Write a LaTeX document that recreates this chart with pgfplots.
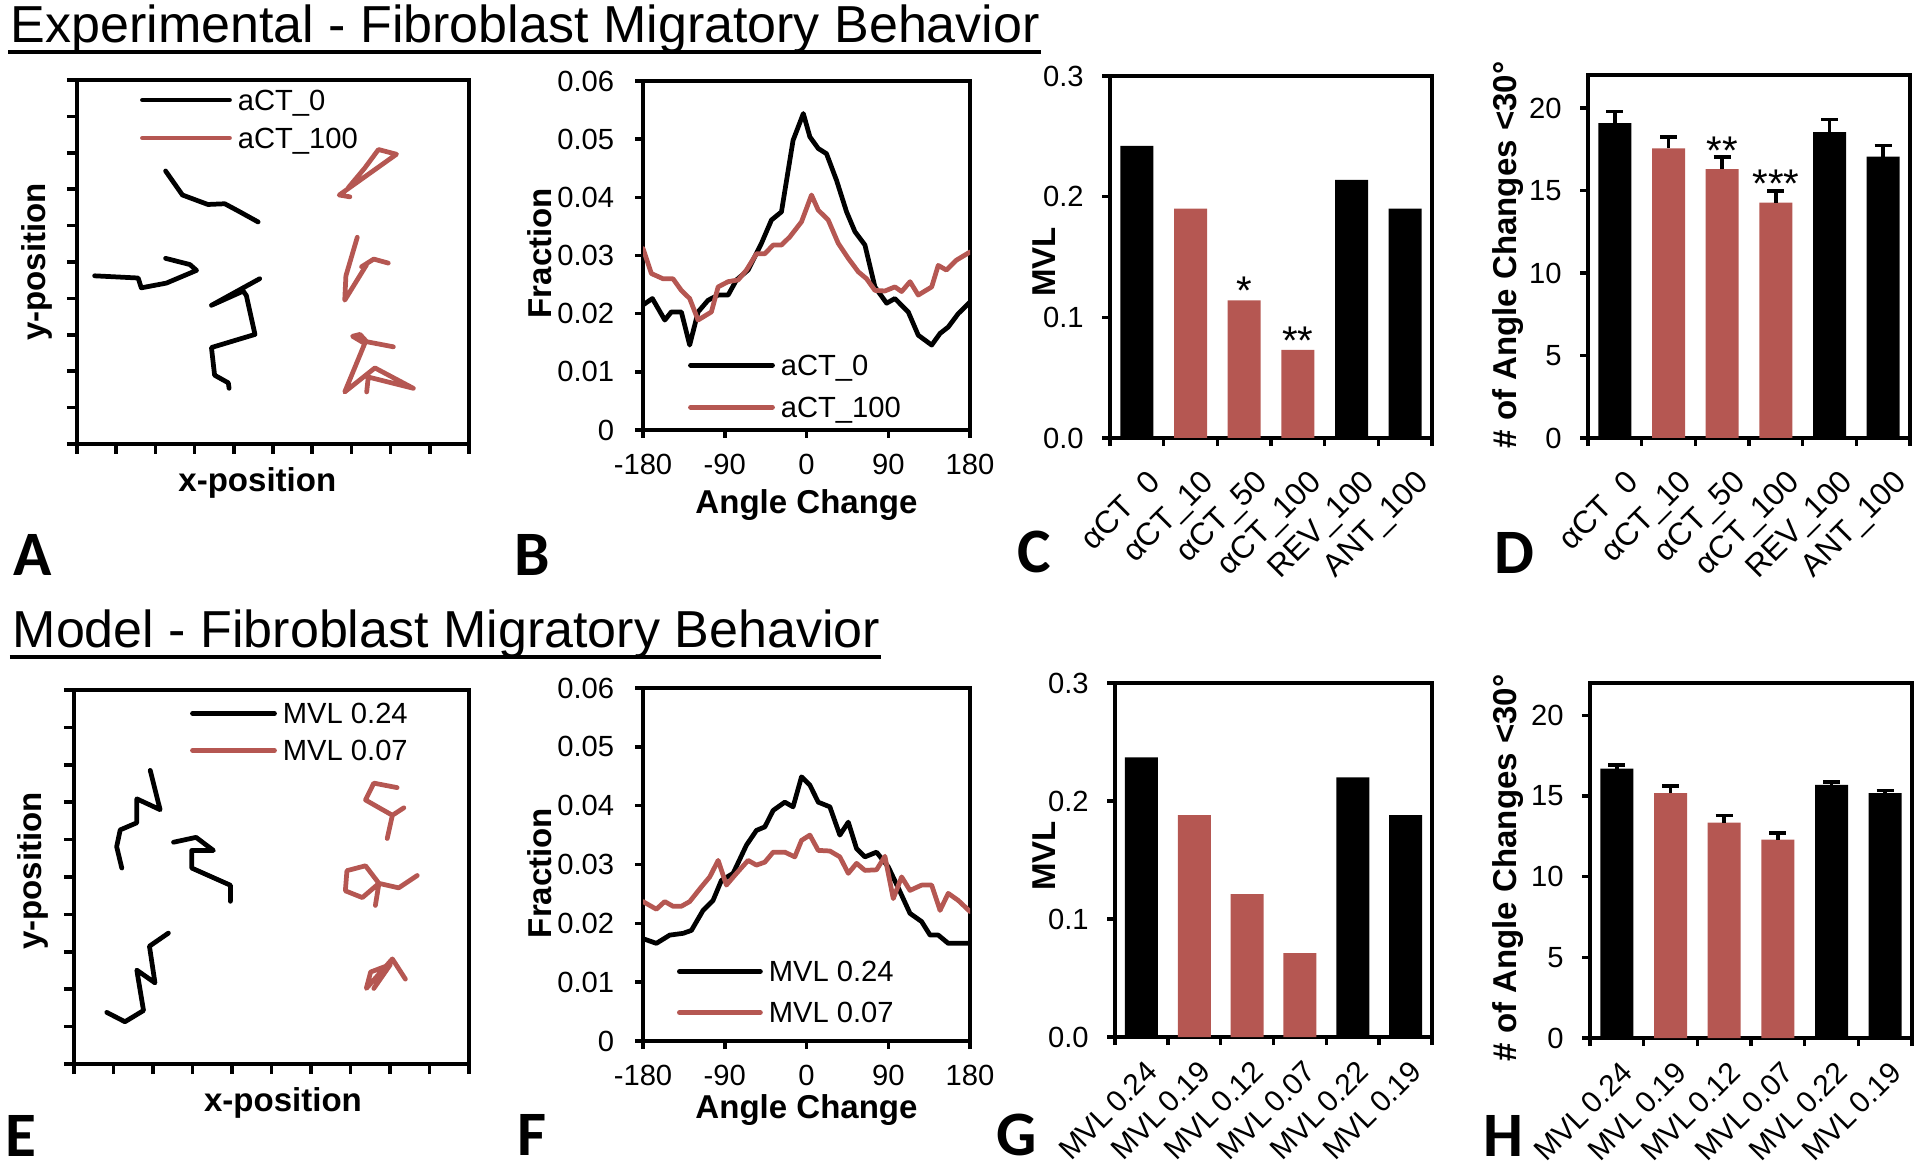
\documentclass[border=0pt]{standalone}
\usepackage{fontspec}
\setmainfont{Liberation Sans}
\newfontfamily\letterfont{Carlito}
\usepackage{pgfplots}
\pgfplotsset{compat=1.18}
\definecolor{myred}{RGB}{181,87,82}

\pgfplotsset{
  panel/.style={
    scale only axis, anchor=south west,
    axis line style={line width=1pt},
    tick style={line width=1pt, black},
    tick align=outside, xtick pos=bottom, ytick pos=left,
    major tick length=0.08cm, minor tick length=0.08cm,
    /pgf/number format/assume math mode=true,
    scaled ticks=false,
    tick label style={font=\fontsize{8.3}{9.8}\selectfont},
    label style={font=\bfseries\fontsize{9.4}{11}\selectfont},
    legend cell align=left,
  },
  leg/.style n args={4}{% x, y, row sep, line length
    legend style={draw=none, fill=none, inner sep=0pt, outer sep=0pt,
      at={(axis description cs:#1,#2)}, anchor=north west,
      row sep=#3, column sep=0.06cm,
      font=\fontsize{8.3}{9.8}\selectfont,
      nodes={inner sep=0pt, text height=0.21cm, text depth=0.01cm}},
    legend image code/.code={\draw[##1] (0cm,0cm) -- (#4,0cm);},
  },
  traj/.style={
    xmin=0, xmax=10, ymin=0, ymax=10,
    xtick={0,...,10}, ytick={0,...,10},
    xticklabels={}, yticklabels={},
    major tick length=0.1cm,
    xlabel={x-position}, ylabel={y-position},
  },
  angle/.style={
    xmin=-180, xmax=180, ymin=0, ymax=0.06,
    xtick={-180,-90,0,90,180}, xticklabels={-180,-90,0,90,180},
    ytick={0,0.01,0.02,0.03,0.04,0.05,0.06},
    yticklabels={0,0.01,0.02,0.03,0.04,0.05,0.06},
    yticklabel style={xshift=-0.085cm},
    xticklabel style={yshift=-0.04cm},
    xlabel={Angle Change}, ylabel={Fraction},
  },
  bars/.style={
    xmin=-0.5, xmax=5.5, ymin=0,
    xtick={0,...,5},
    minor xtick={-0.5,0.5,1.5,2.5,3.5,4.5,5.5},
    every major x tick/.append style={draw=none},
    yticklabel style={xshift=-0.06cm},
  },
  rotlab/.style n args={3}{
    xticklabel style={font=\fontsize{#3}{10}\selectfont, inner sep=0pt,
      xshift=#1, yshift=#2, rotate=45, anchor=north east},
  },
  blackline/.style={black, line width=1.35pt, line join=round, line cap=round},
  redline/.style={myred, line width=1.35pt, line join=round, line cap=round},
  barb/.style={ybar, bar shift=0pt, bar width=0.33cm, draw=none, fill=black},
  barr/.style={ybar, bar shift=0pt, bar width=0.33cm, draw=none, fill=myred},
  errs/.style={error bars/.cd, y dir=plus, y explicit,
    error bar style={line width=1pt, black},
    error mark options={rotate=90, line width=1pt, mark size=0.085cm, black}},
}

\begin{document}
\begin{tikzpicture}
\path[use as bounding box] (0,0) rectangle (19.2,-11.67);

% ---------- titles ----------
\node[anchor=base west, inner sep=0pt, font=\fontsize{14.8}{17}\selectfont] (t1) at (0.10,-0.43) {Experimental - Fibroblast Migratory Behavior};
\draw[line width=1pt] ([yshift=-0.09cm,xshift=-0.02cm]t1.base west) -- ([yshift=-0.09cm]t1.base east);
\node[anchor=base west, inner sep=0pt, font=\fontsize{14.8}{17}\selectfont] (t2) at (0.12,-6.47) {Model - Fibroblast Migratory Behavior};
\draw[line width=1pt] ([yshift=-0.10cm,xshift=-0.02cm]t2.base west) -- ([yshift=-0.10cm]t2.base east);

% ---------- panel letters ----------
\begin{scope}[every node/.style={font=\letterfont\bfseries\fontsize{18}{20}\selectfont, inner sep=0pt, anchor=center}]
\node at (0.33,-5.55) {A};
\node at (5.32,-5.55) {B};
\node at (10.34,-5.52) {C};
\node at (15.14,-5.53) {D};
\node at (0.21,-11.36) {E};
\node at (5.32,-11.35) {F};
\node at (10.17,-11.35) {G};
\node at (15.03,-11.36) {H};
\end{scope}

% ---------- A ----------
\begin{axis}[panel, traj, at={(0.77cm,-4.44cm)}, width=3.92cm, height=3.64cm,
  xlabel style={at={(axis description cs:0.46,-0.107)}, anchor=center},
  ylabel style={at={(axis description cs:-0.102,0.5)}, anchor=center},
  leg={0.161}{0.975}{0.16cm}{0.87cm}]
\addplot[blackline] coordinates {(2.26,7.50) (2.69,6.84) (3.34,6.58) (3.77,6.60) (4.15,6.38) (4.62,6.10)};
\addlegendentry{aCT\_0}
\addplot[redline] coordinates {(6.96,6.79) (6.69,6.84) (8.15,7.96) (7.69,8.09) (7.34,7.58) (6.92,7.04)};
\addlegendentry{aCT\_100}
\addplot[blackline, forget plot] coordinates {(0.45,4.62) (1.56,4.56) (1.64,4.29) (2.28,4.42) (3.05,4.77) (2.88,4.93) (2.26,5.10)};
\addplot[blackline, forget plot] coordinates {(4.66,4.54) (3.43,3.81) (4.24,4.20) (4.32,4.08) (4.54,3.01) (3.43,2.65) (3.51,1.89) (3.86,1.68) (3.88,1.53)};
\addplot[redline, forget plot] coordinates {(7.15,5.68) (6.86,4.62) (6.83,3.95) (7.39,4.93) (7.26,4.87) (7.57,5.08) (7.94,4.97)};
\addplot[redline, forget plot] coordinates {(8.07,2.67) (7.39,2.81) (7.22,3.01) (7.03,2.96) (7.34,2.76) (6.83,1.43) (7.60,2.09) (8.58,1.53) (7.43,1.84) (7.39,1.43)};
\end{axis}

% ---------- B ----------
\begin{axis}[panel, angle, at={(6.43cm,-4.30cm)}, width=3.27cm, height=3.49cm,
  xlabel style={at={(axis description cs:0.5,-0.215)}, anchor=center},
  ylabel style={at={(axis description cs:-0.315,0.507)}, anchor=center},
  leg={0.138}{0.217}{0.20cm}{0.82cm}]
\addplot[blackline] coordinates {
(-180,0.0215) (-169.7,0.0226) (-156,0.0189) (-148.8,0.0203) (-137.8,0.0203)
(-128.6,0.0146) (-119.4,0.0203) (-108.4,0.0223) (-97.3,0.0232) (-86.3,0.0232)
(-77.1,0.0258) (-64.3,0.0275) (-49.6,0.0321) (-38.6,0.0361) (-27.6,0.0375)
(-14.8,0.0498) (-3.5,0.0544) (3.7,0.0504) (12.9,0.0484) (22.0,0.0475)
(33.1,0.0429) (44.1,0.0375) (53.3,0.0341) (64.3,0.0318) (75.3,0.0246)
(88.2,0.0218) (97.3,0.0226) (112,0.0203) (123,0.0163) (137.8,0.0146)
(147,0.0166) (156,0.0177) (167,0.0200) (180,0.0220)};
\addlegendentry{aCT\_0}
\addplot[redline] coordinates {
(-180,0.0312) (-170.8,0.0269) (-158,0.0260) (-147,0.0260) (-137.8,0.0240)
(-128.6,0.0226) (-119.4,0.0189) (-104.7,0.0203) (-97.3,0.0246) (-86.3,0.0255)
(-75.3,0.0258) (-66.1,0.0275) (-55.1,0.0303) (-45.9,0.0303) (-36.7,0.0318)
(-27.6,0.0318) (-18.4,0.0332) (-5.5,0.0358) (5.5,0.0404) (12.9,0.0378)
(23.9,0.0361) (34.9,0.0321) (46,0.0295) (57,0.0272) (66.1,0.0260)
(75.3,0.0240) (86.3,0.0239) (97.3,0.0246) (104.7,0.0238) (114,0.0255)
(123,0.0232) (137.8,0.0246) (145,0.0283) (154,0.0275) (165,0.0292) (180,0.0306)};
\addlegendentry{aCT\_100}
\end{axis}

% ---------- C ----------
\begin{axis}[panel, bars, rotlab={0.09cm}{-0.21cm}{9}, at={(11.10cm,-4.38cm)}, width=3.22cm, height=3.62cm,
  ymax=0.3, ytick={0,0.1,0.2,0.3}, yticklabels={0.0,0.1,0.2,0.3},
  xticklabels={αCT\hphantom{\_}0, αCT\_10, αCT\_50, αCT\_100, REV\_100, ANT\_100},
  ylabel={MVL},
  ylabel style={at={(axis description cs:-0.205,0.486)}, anchor=center}]
\addplot[barb] coordinates {(0,0.242) (4,0.214) (5,0.190)};
\addplot[barr] coordinates {(1,0.190) (2,0.114) (3,0.073)};
\node[anchor=base, inner sep=0pt, font=\fontsize{11.4}{12}\selectfont] at (axis cs:2,0.111) {*};
\node[anchor=base, inner sep=0pt, font=\fontsize{11.4}{12}\selectfont] at (axis cs:3,0.069) {**};
\end{axis}

% ---------- D ----------
\begin{axis}[panel, bars, rotlab={0.09cm}{-0.21cm}{9}, at={(15.88cm,-4.38cm)}, width=3.22cm, height=3.63cm,
  ymax=22, ytick={0,5,10,15,20}, yticklabels={0,5,10,15,20},
  xticklabels={αCT\hphantom{\_}0, αCT\_10, αCT\_50, αCT\_100, REV\_100, ANT\_100},
  ylabel={\# of Angle Changes <30°},
  ylabel style={at={(axis description cs:-0.248,0.504)}, anchor=center}]
\addplot[barb, errs] coordinates {(0,19.09) +- (0,0.71) (4,18.54) +- (0,0.75) (5,17.06) +- (0,0.67)};
\addplot[barr, errs] coordinates {(1,17.56) +- (0,0.67) (2,16.30) +- (0,0.72) (3,14.27) +- (0,0.69)};
\node[anchor=base, inner sep=0pt, font=\fontsize{11.4}{12}\selectfont] at (axis cs:2,16.6) {**};
\node[anchor=base, inner sep=0pt, font=\fontsize{11.4}{12}\selectfont] at (axis cs:3,14.55) {***};
\end{axis}

% ---------- E ----------
\begin{axis}[panel, traj, at={(0.74cm,-10.64cm)}, width=3.95cm, height=3.74cm,
  xlabel style={at={(axis description cs:0.529,-0.104)}, anchor=center},
  ylabel style={at={(axis description cs:-0.104,0.516)}, anchor=center},
  leg={0.294}{0.967}{0.15cm}{0.82cm}]
\addplot[blackline] coordinates {(1.93,7.85) (2.18,6.80) (1.59,7.09) (1.59,6.45) (1.17,6.26) (1.08,5.81) (1.21,5.24)};
\addlegendentry{MVL 0.24}
\addplot[redline] coordinates {(8.18,7.39) (7.59,7.51) (7.38,7.06) (8.06,6.65) (8.35,6.85) (8.06,6.65) (7.93,6.03)};
\addlegendentry{MVL 0.07}
\addplot[blackline, forget plot] coordinates {(2.52,5.93) (3.09,6.06) (3.53,5.71) (2.98,5.71) (2.98,5.24) (3.96,4.78) (3.96,4.35)};
\addplot[blackline, forget plot] coordinates {(2.39,3.50) (1.91,3.15) (2.05,2.17) (1.59,2.51) (1.76,1.43) (1.29,1.13) (0.83,1.38)};
\addplot[redline, forget plot] coordinates {(7.63,4.24) (7.72,4.83) (7.38,5.30) (6.91,5.17) (6.87,4.63) (7.30,4.45) (7.72,4.83) (8.22,4.71) (8.69,5.04)};
\addplot[redline, forget plot] coordinates {(8.39,2.27) (8.06,2.81) (7.40,2.02) (7.51,2.46) (8.01,2.66) (7.59,2.02)};
\end{axis}

% ---------- F ----------
\begin{axis}[panel, angle, at={(6.43cm,-10.41cm)}, width=3.27cm, height=3.53cm,
  xlabel style={at={(axis description cs:0.5,-0.195)}, anchor=center},
  ylabel style={at={(axis description cs:-0.315,0.476)}, anchor=center},
  leg={0.104}{0.228}{0.19cm}{0.81cm}]
\addplot[blackline] coordinates {
(-180,0.0174) (-165.3,0.0166) (-150.6,0.0180) (-135.9,0.0183) (-126.7,0.0188)
(-113.9,0.0222) (-102.9,0.0239) (-93.7,0.0273) (-80.8,0.0285) (-66.1,0.0333)
(-55.1,0.0358) (-45.9,0.0364) (-36.7,0.0392) (-23.9,0.0406) (-14.8,0.0398)
(-5.5,0.0449) (3.7,0.0435) (12.9,0.0406) (25.7,0.0398) (36.7,0.0350)
(46,0.0372) (55.1,0.0327) (64.3,0.0313) (77.1,0.0321) (90,0.0296)
(102.9,0.0254) (113.9,0.0217) (126.7,0.0203) (136,0.0180) (145.1,0.0180)
(156,0.0166) (180,0.0166)};
\addlegendentry{MVL 0.24}
\addplot[redline] coordinates {
(-180,0.0237) (-165.3,0.0224) (-156.1,0.0237) (-146.9,0.0229) (-137.8,0.0229)
(-128.6,0.0237) (-115.7,0.0262) (-106.5,0.0279) (-97.3,0.0307) (-88.2,0.0265)
(-77.1,0.0285) (-64.3,0.0307) (-55.1,0.0299) (-45.9,0.0304) (-36.7,0.0321)
(-23.9,0.0321) (-12.9,0.0313) (-5.5,0.0341) (3.7,0.0350) (12.9,0.0324)
(25.7,0.0323) (36.7,0.0313) (46,0.0285) (55.1,0.0302) (64.3,0.0290)
(77.1,0.0291) (86.3,0.0314) (95.5,0.0242) (104.7,0.0279) (113.9,0.0256)
(126.7,0.0265) (137.8,0.0265) (147,0.0222) (156,0.0251) (167,0.0239) (180,0.0220)};
\addlegendentry{MVL 0.07}
\end{axis}

% ---------- G ----------
\begin{axis}[panel, bars, rotlab={0.03cm}{-0.13cm}{8.5}, at={(11.15cm,-10.37cm)}, width=3.17cm, height=3.54cm,
  ymax=0.3, ytick={0,0.1,0.2,0.3}, yticklabels={0.0,0.1,0.2,0.3},
  xticklabels={MVL\,0.24, MVL\,0.19, MVL\,0.12, MVL\,0.07, MVL\,0.22, MVL\,0.19},
  ylabel={MVL},
  ylabel style={at={(axis description cs:-0.224,0.511)}, anchor=center}]
\addplot[barb] coordinates {(0,0.237) (4,0.220) (5,0.188)};
\addplot[barr] coordinates {(1,0.188) (2,0.121) (3,0.071)};
\end{axis}

% ---------- H ----------
\begin{axis}[panel, bars, rotlab={0.03cm}{-0.13cm}{8.5}, at={(15.90cm,-10.38cm)}, width=3.22cm, height=3.55cm,
  ymax=22, ytick={0,5,10,15,20}, yticklabels={0,5,10,15,20},
  xticklabels={MVL\,0.24, MVL\,0.19, MVL\,0.12, MVL\,0.07, MVL\,0.22, MVL\,0.19},
  ylabel={\# of Angle Changes <30°},
  ylabel style={at={(axis description cs:-0.255,0.479)}, anchor=center}]
\addplot[barb, errs] coordinates {(0,16.70) +- (0,0.21) (4,15.69) +- (0,0.17) (5,15.17) +- (0,0.17)};
\addplot[barr, errs] coordinates {(1,15.17) +- (0,0.44) (2,13.34) +- (0,0.46) (3,12.29) +- (0,0.42)};
\end{axis}

\end{tikzpicture}
\end{document}
